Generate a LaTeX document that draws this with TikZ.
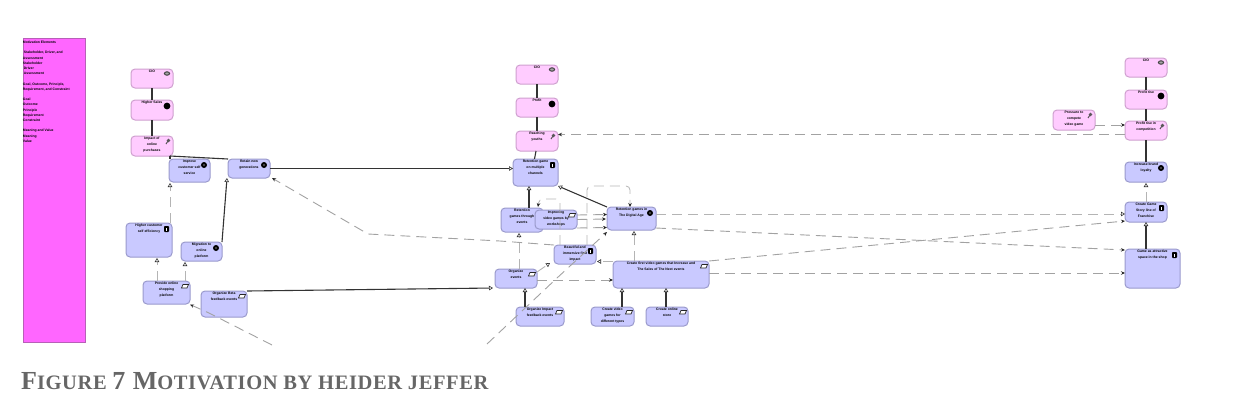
\documentclass[tikz,border=0pt]{standalone}
\usepackage{fontspec}
\setmainfont{Liberation Sans}
\newfontfamily\capfont[LetterSpace=3]{Liberation Serif}
\usetikzlibrary{arrows.meta,calc}
\definecolor{pinkfill}{HTML}{FFCCFF}
\definecolor{pinkline}{HTML}{CFA0CF}
\definecolor{bluefill}{HTML}{C9C9FF}
\definecolor{blueline}{HTML}{9A9ACC}
\definecolor{panelfill}{HTML}{FF66FF}
\definecolor{panelline}{HTML}{B85FB8}
\definecolor{dashgray}{HTML}{B4B4B4}
\definecolor{capgray}{HTML}{666666}
\tikzset{
  boxbase/.style={rectangle,rounded corners=4pt,inner sep=0pt,outer sep=0pt,line width=1pt,font=\fontsize{3.4}{6}\selectfont\bfseries,text=black},
  pinkbox/.style={boxbase,draw=pinkline,fill=pinkfill},
  bluebox/.style={boxbase,draw=blueline,fill=bluefill},
  solidlink/.style={draw=black!80,line width=1.1pt},
  reallink/.style={solidlink,-{Triangle[open,fill=white,length=4pt,width=4.5pt,line width=0.6pt]}},
  dashlink/.style={draw=dashgray,line width=0.9pt,dash pattern=on 10pt off 6pt,-{Triangle[fill=white,length=4pt,width=4.5pt,line width=0.6pt,color=black!80]}},
  flowlink/.style={draw=dashgray!90!black,line width=0.9pt,dash pattern=on 10pt off 6pt,-{Stealth[length=4pt,width=3.5pt,color=black!85]}},
  plainflow/.style={draw=dashgray,line width=0.8pt,dash pattern=on 10pt off 6pt,rounded corners=4pt},
}
\newcommand{\bx}[7]{\node[#2] (#1) at ({(#3+#5)/2},{(#4+#6)/2}) {\parbox[c][\dimexpr#6pt-#4pt\relax][t]{\dimexpr#5pt-#3pt\relax}{\centering\vspace{1.5pt}#7\par}};}
% icons, placed relative to the top right corner of a node
\newcommand{\icgoal}[1]{\fill[black] ($(#1.north east)+(-6,6)$) circle (3);\fill[black!65] ($(#1.north east)+(-6,6)$) circle (1.2);}
\newcommand{\icdriver}[1]{\fill[black] ($(#1.north east)+(-6,6)$) circle (3.4);}
\newcommand{\icstake}[1]{\draw[black!75,line width=1pt,fill=black!35] ($(#1.north east)+(-6,4.5)$) ellipse (2.6 and 1.7);}
\newcommand{\icassess}[1]{\draw[black!70,line width=0.9pt] ($(#1.north east)+(-7,8)$) -- ($(#1.north east)+(-5,5)$);\fill[black!65] ($(#1.north east)+(-4.5,4.5)$) circle (1.9);}
\newcommand{\icreq}[1]{\draw[black!85,line width=0.7pt,fill=white] ($(#1.north east)+(-8.5,7)$) -- ($(#1.north east)+(-3,7)$) -- ($(#1.north east)+(-1.5,3.5)$) -- ($(#1.north east)+(-7,3.5)$) -- cycle;}
\newcommand{\icvalue}[1]{\fill[black,rounded corners=0.8pt] ($(#1.north east)+(-8,3)$) rectangle ($(#1.north east)+(-3,9)$);\fill[white] ($(#1.north east)+(-6,4.5)$) rectangle ($(#1.north east)+(-5,7.5)$);}
\begin{document}
\begin{tikzpicture}[x=1pt,y=-1pt]
\useasboundingbox (0,0) rectangle (1239,416);
% legend panel
\node[rectangle,draw=panelline,fill=panelfill,line width=0.8pt,inner sep=0pt,outer sep=0pt,font=\fontsize{3.4}{5.2}\selectfont\bfseries] (legend) at (54,190) {\parbox[c][304pt][t]{62pt}{\vspace{3pt}\leftskip=2pt\raggedright
Motivation Elements\\ \mbox{}\\
\hspace*{1pt}Stakeholder, Driver, and\\ Assessment\\ Stakeholder\\ \hspace*{1pt}Driver\\ \hspace*{1pt}Assessment\\ \mbox{}\\
Goal, Outcome, Principle,\\ Requirement, and Constraint\\ \mbox{}\\
Goal\\ Outcome\\ Principle\\ Requirement\\ Constraint\\ \mbox{}\\
Meaning and Value\\ Meaning\\ Value\par}};
% left column
\bx{na}{pinkbox}{131}{69}{173}{88}{CIO}
\bx{nb}{pinkbox}{131}{100}{173}{120}{Higher Sales}
\bx{nc}{pinkbox}{131}{136}{173}{156}{Impact of\\online\\purchases}
\bx{aa}{bluebox}{169}{159}{210}{182}{Improve\\customer self\\service}
\bx{ab}{bluebox}{228}{159}{270}{178}{Retain new\\generations}
\bx{ac}{bluebox}{126}{223}{172}{257}{Higher customer\\self efficiency}
\bx{ad}{bluebox}{181}{242}{222}{261}{Migration to\\online\\platform}
\bx{ae}{bluebox}{143}{281}{190}{304}{Provide online\\shopping\\platform}
\bx{af}{bluebox}{201}{291}{247}{317}{Organize Beta\\feedback events}
% middle column
\bx{ma}{pinkbox}{516}{65}{558}{84}{CIO}
\bx{mb}{pinkbox}{516}{98}{558}{117}{Profit}
\bx{mc}{pinkbox}{516}{131}{558}{151}{Reaching\\youths}
\bx{md}{bluebox}{513}{159}{558}{186}{Retention game\\on multiple\\channels}
\bx{me}{bluebox}{501}{208}{543}{232}{Retention\\games through\\events}
\bx{mf}{bluebox}{535}{210}{577}{229}{Improving\\video games by\\workshops}
\bx{mg}{bluebox}{607}{207}{656}{230}{Retention games in\\The Digital Age}
\bx{mh}{bluebox}{554}{245}{596}{264}{Beautiful and\\immersive first\\impact}
\bx{mi}{bluebox}{495}{269}{537}{288}{Organize\\events}
\bx{mj}{bluebox}{613}{261}{709}{288}{Create first video games that Increase and\\The Sales of The Next events}
\bx{mk}{bluebox}{516}{307}{564}{326}{Organize Impact\\feedback events}
\bx{ml}{bluebox}{591}{307}{634}{326}{Create video\\games for\\different types}
\bx{mm}{bluebox}{646}{307}{688}{326}{Create online\\store}
% right column
\bx{ra}{pinkbox}{1125}{58}{1167}{77}{CIO}
\bx{rb}{pinkbox}{1125}{90}{1167}{109}{Profit rise}
\bx{rc}{pinkbox}{1125}{121}{1167}{140}{Profit rise in\\competition}
\bx{rd}{bluebox}{1125}{162}{1167}{182}{Increase brand\\loyalty}
\bx{re}{bluebox}{1125}{202}{1167}{222}{Create Game\\Story line of\\Franchise}
\bx{rf}{bluebox}{1125}{249}{1180}{288}{Game as attractive\\space in the shop}
\bx{rg}{pinkbox}{1053}{110}{1095}{130}{Pressure to\\compete\\video game}
% icons
\icstake{na}\icdriver{nb}\icassess{nc}\icgoal{aa}\icgoal{ab}\icvalue{ac}\icgoal{ad}\icreq{ae}\icreq{af}
\icstake{ma}\icdriver{mb}\icassess{mc}\icvalue{md}\icreq{mf}\icgoal{mg}\icvalue{mh}\icreq{mi}\icreq{mj}\icreq{mk}\icreq{ml}\icreq{mm}
\icstake{ra}\icdriver{rb}\icassess{rc}\icgoal{rd}\icvalue{re}\icvalue{rf}\icassess{rg}
% free ends
\coordinate (cuta) at (272,345);
\coordinate (cutb) at (487,344);
\coordinate (benda) at (368,234);
\coordinate (bendb) at (500,241);
% solid associations
\draw[solidlink] (na) -- (nb);
\draw[solidlink] (nb) -- (nc);
\draw[solidlink] ($(nc.south east)+(-3,0)$) -- ($(aa.north west)+(1,0)$);
\draw[solidlink] ($(nc.south east)+(-3,0)$) -- ($(ab.north west)+(0,0)$);
\draw[solidlink] (ma) -- (mb);
\draw[solidlink] (mb) -- (mc);
\draw[solidlink] ($(mc.south)+(-1,0)$) -- ($(md.north)+(-1,0)$);
\draw[solidlink] (ra) -- (rb);
\draw[solidlink] (rb) -- (rc);
\draw[solidlink] (rc) -- (rd);
% realisations
\draw[reallink] (ab.east) -- ($(md.west)+(0,-4)$);
\draw[reallink] ($(ad.north east)+(0,0)$) -- ($(ab.south west)+(-1,0)$);
\draw[reallink] ($(af.north east)+(0,0)$) -- ($(mi.south west)+(-2,0)$);
\draw[reallink] ($(me.north)+(7,0)$) -- ($(md.south)+(-6.5,0)$);
\draw[reallink] ($(mg.north west)+(0,0)$) -- ($(md.south east)+(0,0)$);
\draw[reallink] (rf.north -| re.south) -- (re.south);
\draw[reallink] ($(mk.north west)+(9,0)$) -- ($(mi.south east)+(-12,0)$);
\draw[reallink] ($(ml.north west)+(31,0)$) -- ($(mj.south west)+(9,0)$);
\draw[reallink] ($(mm.north west)+(20,0)$) -- ($(mj.south west)+(53,0)$);
% dashed realisations
\draw[dashlink] ($(ac.north east)+(-2,0)$) -- ($(aa.south west)+(1,1)$);
\draw[dashlink] ($(ae.north west)+(14,0)$) -- ($(ac.south west)+(31,1)$);
\draw[dashlink] ($(ae.north east)+(-5,0)$) -- ($(ad.south west)+(4,1)$);
\draw[dashlink] (re.north) -- ($(rd.south)+(0,1)$);
\draw[dashlink] ($(mi.north west)+(24,0)$) -- ($(me.south west)+(18,1)$);
\draw[dashlink] ($(mj.north west)+(21,0)$) -- ($(mg.south west)+(27,1)$);
\draw[dashlink] ($(mg.east)+(0,-4.5)$) -- ($(re.west)+(0,2)$);
\draw[dashlink] ($(mi.north east)+(0,3)$) -- ($(mh.south west)+(-4,-1)$);
\draw[dashlink] ($(mj.west)+(0,-13)$) -- ($(mh.east)+(1,7)$);
% influence / flow
\draw[flowlink] ($(rc.west)+(0,4)$) -- ($(mc.east)+(0,-6.5)$);
\draw[flowlink] ($(rg.east)+(0,5)$) -- ($(rc.west)+(0,-5.5)$);
\draw[flowlink] ($(mg.south east)+(0,-2)$) -- ($(rf.north west)+(0,1)$);
\draw[flowlink] ($(mj.east)+(0,-1.5)$) -- ($(rf.west)+(0,4.5)$);
\draw[flowlink] (mj.north east) -- ($(re.south west)+(0,-1)$);
\draw[flowlink] ($(mi.east)+(0,1.5)$) -- ($(mj.west)+(0,5.5)$);
\draw[flowlink] (cutb) -- ($(mh.south)+(-18,14)$) -- ($(mg.south west)+(0,2)$);
\draw[flowlink] ($(mf.east)+(0,-4.5)$) -- ($(mg.west)+(0,-4)$);
\draw[flowlink] ($(mf.east)+(0,0)$) -- ($(mg.west)+(-1,0.5)$);
\draw[flowlink] ($(mf.east)+(0,8.5)$) -- ($(mg.west)+(0,9)$);
\draw[flowlink] (mh.north west) -- (bendb) -- (benda) -- ($(ab.south east)+(2,0)$);
\draw[flowlink] (cuta) -- ($(af.south west)+(8,-4)$) -- ($(ae.south east)+(0,0.5)$);
% rounded dashed triggering loops
\draw[plainflow,-{Stealth[length=4pt,width=3.5pt,color=black!85]}] ($(mh.north east)+(-9,0)$) |- ($(mg.north west)+(23,-21)$) -- ($(mg.north west)+(23,0)$);
\draw[plainflow,-{Stealth[length=4pt,width=3.5pt,color=black!85]}] ($(mh.north west)+(6,0)$) |- ($(mf.north west)+(4,-11)$) -- ($(mf.north west)+(3,-3)$);
% caption
\node[anchor=base west,inner sep=0pt,text=capgray,font=\capfont\bfseries] (caption) at (21,389) {\fontsize{26}{28}\selectfont F\fontsize{20.5}{28}\selectfont IGURE \fontsize{26}{28}\selectfont 7 M\fontsize{20.5}{28}\selectfont OTIVATION BY HEIDER JEFFER};
\end{tikzpicture}
\end{document}
